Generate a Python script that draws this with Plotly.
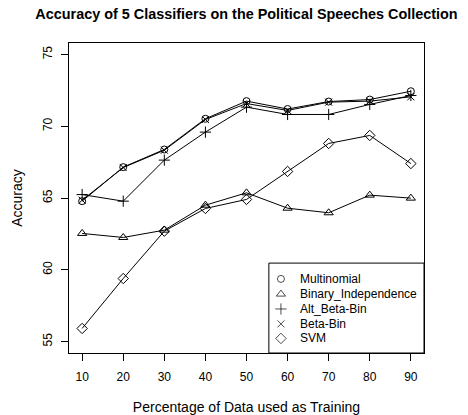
import plotly.graph_objects as go

pct = [10, 20, 30, 40, 50, 60, 70, 80, 90]
multinomial = [64.78, 67.15, 68.38, 70.52, 71.75, 71.2, 71.72, 71.86, 72.44]
binary_indep = [62.53, 62.25, 62.76, 64.5, 65.36, 64.29, 63.97, 65.2, 64.99]
alt_beta_bin = [65.24, 64.78, 67.64, 69.59, 71.33, 70.82, 70.82, 71.52, 72.14]
beta_bin = [64.85, 67.12, 68.33, 70.47, 71.58, 71.1, 71.68, 71.75, 72.05]
svm = [55.91, 59.39, 62.69, 64.27, 64.9, 66.85, 68.8, 69.36, 67.4]

series_names = ["Multinomial", "Binary_Independence", "Alt_Beta-Bin", "Beta-Bin", "SVM"]
series_values = [multinomial, binary_indep, alt_beta_bin, beta_bin, svm]
symbols = ["circle-open", "triangle-up-open", "cross-thin-open", "x-thin-open", "diamond-open"]
sizes = [7, 8, 8, 7, 8]

x_ticks = [10, 20, 30, 40, 50, 60, 70, 80, 90]
y_ticks = [55, 60, 65, 70, 75]

FONT = "Liberation Sans, Arial, Helvetica, sans-serif"

fig = go.Figure()
for name, vals, sym, sz in zip(series_names, series_values, symbols, sizes):
    fig.add_trace(go.Scatter(
        x=pct, y=vals, mode="lines+markers", name=name, showlegend=False,
        line=dict(color="black", width=1),
        marker=dict(symbol=sym, size=sz, color="black", line=dict(color="black", width=1)),
    ))

# manual R-style legend (box, symbols, labels)
leg_sym_x = 0.597
leg_txt_x = 0.645
leg_rows = [0.239, 0.190, 0.142, 0.094, 0.047]
fig.add_trace(go.Scatter(
    x=[leg_sym_x] * len(series_names), y=leg_rows, mode="markers",
    xaxis="x2", yaxis="y2", showlegend=False, hoverinfo="skip",
    marker=dict(symbol=symbols, size=sizes, color="black", line=dict(color="black", width=1)),
))
for name, ry in zip(series_names, leg_rows):
    fig.add_annotation(x=leg_txt_x, y=ry, xref="x2", yref="y2", text=name,
                       showarrow=False, xanchor="left", yanchor="middle",
                       font=dict(family=FONT, size=12, color="black"))
fig.add_shape(type="rect", xref="paper", yref="paper", x0=0.563, x1=1.0, y0=0.0, y1=0.29,
              line=dict(color="black", width=1), fillcolor="white", layer="below")

fig.update_layout(
    width=468, height=415,
    margin=dict(l=69, r=44, t=43, b=62),
    paper_bgcolor="white", plot_bgcolor="white",
    font=dict(family=FONT, size=12, color="black"),
    title=dict(text="<b>Accuracy of 5 Classifiers on the Political Speeches Collection</b>",
               x=0.5, xref="paper", xanchor="center", y=1 - 14 / 415, yanchor="middle",
               font=dict(family=FONT, size=14.4, color="black")),
    xaxis=dict(range=[6.8, 93.2], tickvals=x_ticks, ticks="outside", ticklen=7, tickcolor="black",
               ticklabelstandoff=6, automargin=False,
               showline=True, mirror=True, linecolor="black", linewidth=1, showgrid=False,
               zeroline=False, title=dict(text="Percentage of Data used as Training", standoff=19)),
    yaxis=dict(range=[54.2, 75.8], tickvals=y_ticks, ticks="outside", ticklen=7, tickcolor="black",
               tickangle=-90, ticklabelstandoff=4, automargin=False,
               showline=True, mirror=True, linecolor="black", linewidth=1, showgrid=False,
               zeroline=False, title=dict(text="Accuracy", standoff=15)),
    xaxis2=dict(range=[0, 1], overlaying="x", visible=False, fixedrange=True),
    yaxis2=dict(range=[0, 1], overlaying="y", visible=False, fixedrange=True),
)

fig.write_html("out.html")
